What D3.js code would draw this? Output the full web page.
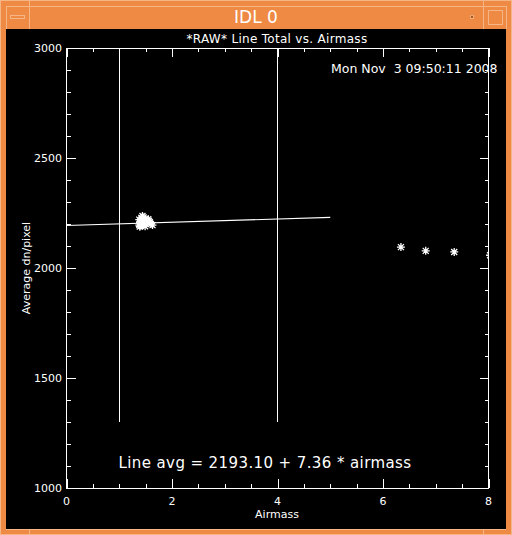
<!DOCTYPE html>
<html>
<head>
<meta charset="utf-8">
<script src="https://cdn.jsdelivr.net/npm/d3@7"></script>
<style>
  body { margin: 0; background: #ee8a44; }
  svg { display: block; }
  text { font-family: "DejaVu Sans", sans-serif; fill: #fff; }
  line, rect { shape-rendering: crispEdges; }
</style>
</head>
<body>
<script>
// airmass / average dn per pixel
var clusterAirmass = [1.38, 1.40, 1.42, 1.44, 1.46, 1.39, 1.41, 1.43, 1.45, 1.47, 1.50, 1.52, 1.38, 1.42, 1.46, 1.49, 1.53, 1.56, 1.60, 1.63, 1.44, 1.40, 1.48, 1.55, 1.58];
var clusterValues  = [2195, 2205, 2215, 2222, 2230, 2188, 2192, 2200, 2210, 2218, 2224, 2212, 2220, 2228, 2198, 2190, 2205, 2215, 2200, 2195, 2236, 2212, 2206, 2222, 2208];
var farAirmass = [6.34, 6.81, 7.35, 8.03];
var farValues  = [2095, 2078, 2073, 2058];

var fitIntercept = 2193.10, fitSlope = 7.36, fitEnd = 5;
var markerAirmass = [1, 4];
var markerRange = [1300, 3000];

var xMajor = [0, 2, 4, 6, 8];
var yMajor = [1000, 1500, 2000, 2500, 3000];

var W = 512, H = 535;
var svg = d3.select("body").append("svg").attr("width", W).attr("height", H);

// window frame
svg.append("rect").attr("x", 0).attr("y", 0).attr("width", W).attr("height", H).attr("fill", "#ee8a44");
svg.append("rect").attr("x", 0.5).attr("y", 0.5).attr("width", W - 1).attr("height", H - 1)
    .attr("fill", "none").attr("stroke", "#f6b585");
[[29, 6, 29, 29], [483, 6, 483, 29], [6, 6, 506, 6], [6, 6, 6, 29], [506, 6, 506, 29], [29, 1, 29, 6], [483, 1, 483, 6],
 [6, 529.5, 506, 529.5], [29, 529, 29, 534], [483, 529, 483, 534]].forEach(function (l) {
    svg.append("line").attr("x1", l[0]).attr("y1", l[1]).attr("x2", l[2]).attr("y2", l[3])
        .attr("stroke", "#f6b585").attr("stroke-width", 1);
});
svg.append("rect").attr("x", 10.5).attr("y", 15.5).attr("width", 14).attr("height", 3)
    .attr("fill", "none").attr("stroke", "#f6b585");
svg.append("rect").attr("x", 470).attr("y", 15).attr("width", 3).attr("height", 3)
    .attr("fill", "#a85a25").attr("stroke", "#f6b585").attr("stroke-width", 0.8);
svg.append("rect").attr("x", 488.5).attr("y", 10.5).attr("width", 14).attr("height", 14)
    .attr("fill", "none").attr("stroke", "#f6b585");
svg.append("text").attr("x", 256).attr("y", 23).attr("text-anchor", "middle")
    .style("font-size", "17px").text("IDL 0");

svg.append("rect").attr("x", 6).attr("y", 29).attr("width", 500).attr("height", 500).attr("fill", "#000");

// scales
var x = d3.scaleLinear().domain([0, 8]).range([66.5, 488.5]);
var y = d3.scaleLinear().domain([1000, 3000]).range([488, 48]);

var g = svg.append("g");

function styleAxis(sel) {
    sel.select(".domain").remove();
    sel.selectAll("line").attr("stroke", "#fff").attr("stroke-width", 1);
    sel.selectAll("text").remove();
}
var xMinor = d3.range(0, 8.01, 0.5).filter(function (v) { return v % 2 !== 0; });
var yMinor = d3.range(1000, 3001, 100).filter(function (v) { return v % 500 !== 0; });

// ticks on all four sides, pointing inward
g.append("g").attr("transform", "translate(0,488)").call(d3.axisBottom(x).tickValues(xMajor).tickSize(-9)).call(styleAxis);
g.append("g").attr("transform", "translate(0,488)").call(d3.axisBottom(x).tickValues(xMinor).tickSize(-4)).call(styleAxis);
g.append("g").attr("transform", "translate(0,48)").call(d3.axisTop(x).tickValues(xMajor).tickSize(-9)).call(styleAxis);
g.append("g").attr("transform", "translate(0,48)").call(d3.axisTop(x).tickValues(xMinor).tickSize(-4)).call(styleAxis);
g.append("g").attr("transform", "translate(66.5,0)").call(d3.axisLeft(y).tickValues(yMajor).tickSize(-9)).call(styleAxis);
g.append("g").attr("transform", "translate(66.5,0)").call(d3.axisLeft(y).tickValues(yMinor).tickSize(-4)).call(styleAxis);
g.append("g").attr("transform", "translate(488.5,0)").call(d3.axisRight(y).tickValues(yMajor).tickSize(-9)).call(styleAxis);
g.append("g").attr("transform", "translate(488.5,0)").call(d3.axisRight(y).tickValues(yMinor).tickSize(-4)).call(styleAxis);

g.append("rect").attr("x", 66.5).attr("y", 48).attr("width", 422).attr("height", 440)
    .attr("fill", "none").attr("stroke", "#fff");

// tick labels
g.selectAll(".xl").data(xMajor).enter().append("text")
    .attr("x", function (d) { return x(d); }).attr("y", 505)
    .attr("text-anchor", "middle").style("font-size", "11px").text(function (d) { return d; });
g.selectAll(".yl").data(yMajor).enter().append("text")
    .attr("x", 62).attr("y", function (d) { return y(d) + 4; })
    .attr("text-anchor", "end").style("font-size", "11px").text(function (d) { return d; });

g.append("text").attr("x", 277).attr("y", 518).attr("text-anchor", "middle")
    .style("font-size", "11px").text("Airmass");
g.append("text").attr("transform", "translate(30,268) rotate(-90)").attr("text-anchor", "middle")
    .style("font-size", "11px").text("Average dn/pixel");
g.append("text").attr("x", 277).attr("y", 43).attr("text-anchor", "middle")
    .style("font-size", "12px").style("letter-spacing", "0.3px").text("*RAW* Line Total vs. Airmass");
g.append("text").attr("x", 331).attr("y", 73)
    .style("font-size", "12.5px").style("white-space", "pre").attr("xml:space", "preserve")
    .text("Mon Nov  3 09:50:11 2008");
g.append("text").attr("x", 265).attr("y", 468).attr("text-anchor", "middle")
    .style("font-size", "15px").style("letter-spacing", "0.4px")
    .text("Line avg = 2193.10 + 7.36 * airmass");

// airmass marker lines
markerAirmass.forEach(function (a) {
    g.append("line").attr("x1", x(a)).attr("x2", x(a))
        .attr("y1", y(markerRange[0])).attr("y2", y(markerRange[1]))
        .attr("stroke", "#fff").attr("stroke-width", 1);
});

// fit line
g.append("line").attr("x1", x(0)).attr("y1", y(fitIntercept))
    .attr("x2", x(fitEnd)).attr("y2", y(fitIntercept + fitSlope * fitEnd))
    .attr("stroke", "#fff").attr("stroke-width", 1.2).style("shape-rendering", "auto");

// asterisk symbols, clipped to the plot window
svg.append("clipPath").attr("id", "plotclip").append("rect")
    .attr("x", 66.5).attr("y", 48).attr("width", 422).attr("height", 440);
var pts = clusterAirmass.map(function (a, i) { return [a, clusterValues[i]]; })
    .concat(farAirmass.map(function (a, i) { return [a, farValues[i]]; }));
var star = "M-4,0H4M0,-4V4M-3,-3L3,3M-3,3L3,-3";
g.append("g").attr("clip-path", "url(#plotclip)")
    .selectAll("path").data(pts).enter().append("path")
    .attr("transform", function (d) { return "translate(" + x(d[0]) + "," + y(d[1]) + ")"; })
    .attr("d", star).attr("stroke", "#fff").attr("stroke-width", 1.3).attr("fill", "none");
</script>
</body>
</html>
